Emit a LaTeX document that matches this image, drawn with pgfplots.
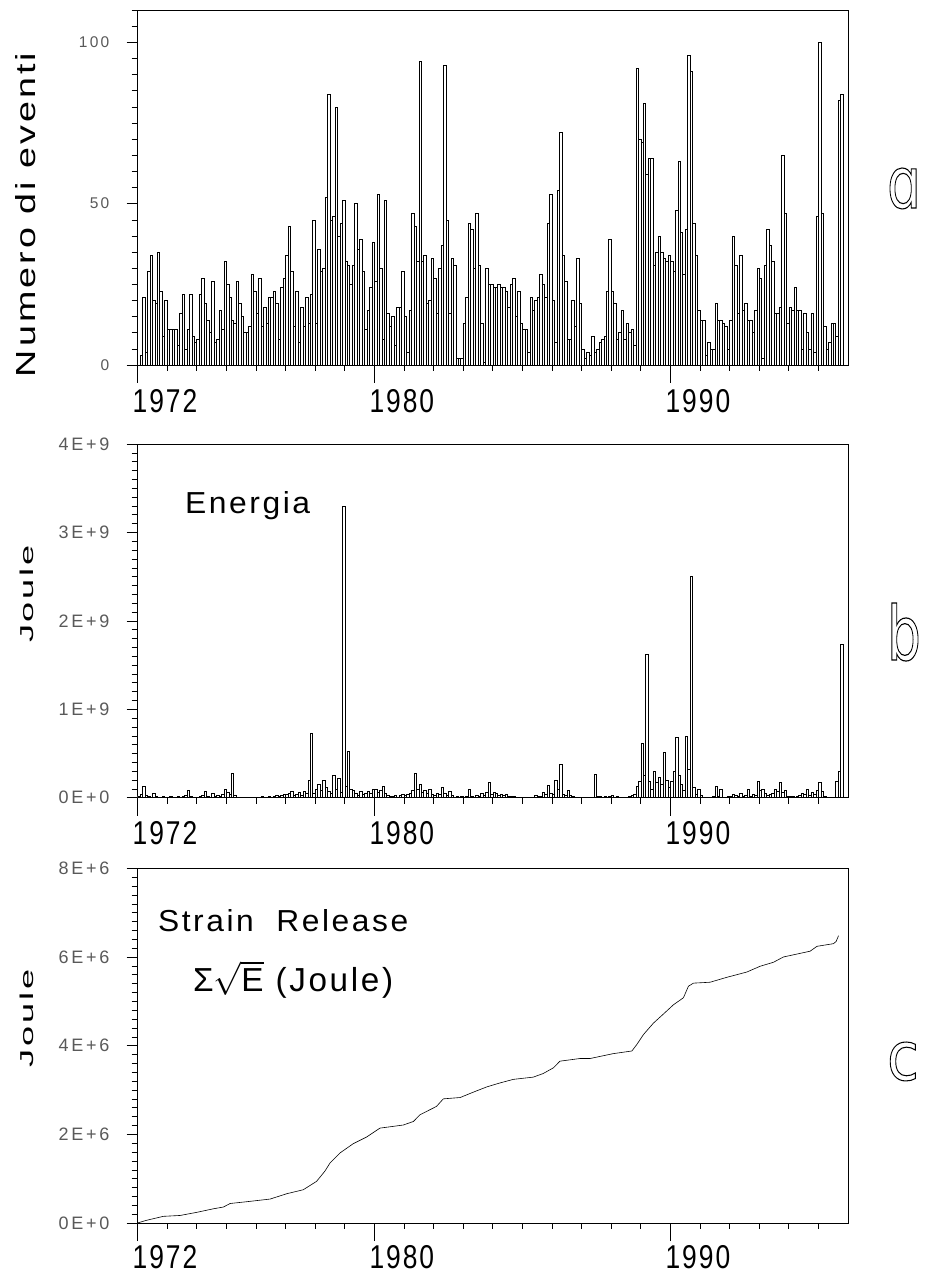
\documentclass[border=0pt]{standalone}
\usepackage{fontspec}
\setmainfont{Liberation Sans}
\newfontfamily\xtfont{Liberation Sans}[FakeStretch=0.8, LetterSpace=6]
\newfontfamily\ytfont{Liberation Sans}[LetterSpace=15]
\newfontfamily\lblfont{Liberation Sans}[LetterSpace=8]
\newfontfamily\outfont{DejaVu Sans}
\usepackage{graphicx}
\usepackage{pgfplots}
\pgfplotsset{compat=1.18}
\newcommand\xticksize{\xtfont\fontsize{33}{36}\selectfont}
\newcommand\ytsmall{\ytfont\fontsize{15.5}{17}\selectfont}
\newcommand\ytbig{\ytfont\fontsize{18}{20}\selectfont}
\newcommand\outl[1]{\special{pdf:literal direct 1 Tr 1.1 w}#1\special{pdf:literal direct 0 Tr}}
\pgfplotsset{
 panel/.style={
  scale only axis, width=710.5pt, anchor=south west,
  xmin=1972, xmax=1996,
  axis line style={line width=0.7pt},
  tick align=outside, tick pos=left,
  major tick length=11pt, minor tick length=6pt,
  every tick/.append style={line width=0.6pt, black},
  every minor tick/.append style={line width=0.5pt, black},
  xtick={1972,1980,1990}, xticklabels={1972,1980,1990},
  minor xtick={1973,1974,...,1995},
  extra x ticks={1972,1980,1990}, extra x tick labels={},
  extra x tick style={major tick length=18pt},
  xticklabel style={font=\xticksize, anchor=north west, inner sep=0pt, xshift=-5pt, yshift=-13pt},
  yticklabel style={anchor=east, inner sep=0pt, xshift=-17pt, text=black!65},
 }
}
\begin{document}
\begin{tikzpicture}
\useasboundingbox (0pt,0pt) rectangle (925pt,1276pt);
% ---------------- panel a ----------------
\begin{axis}[panel, at={(137.5pt,911pt)}, height=355pt, ymin=0, ymax=110,
  ytick={0,50,100}, yticklabels={0,50,100}, minor ytick={5,10,...,110},
  yticklabel style={font=\ytsmall}]
\addplot[ybar interval, draw=black, fill=white, line width=0.45pt]
 table[row sep=\\, header=false, x expr=1972+\coordindex/12, y index=0] {
0\\3\\21\\4\\29\\34\\20\\19\\35\\23\\9\\
20\\11\\11\\11\\11\\6\\16\\22\\5\\11\\22\\
9\\7\\8\\22\\27\\19\\14\\10\\26\\7\\
8\\17\\11\\32\\25\\21\\14\\13\\26\\19\\
15\\10\\10\\12\\28\\23\\16\\27\\12\\18\\13\\
21\\21\\23\\19\\8\\24\\27\\34\\43\\29\\12\\
23\\7\\18\\12\\21\\13\\22\\45\\13\\36\\
29\\
30\\52\\84\\45\\46\\80\\40\\44\\51\\32\\
31\\25\\31\\50\\36\\39\\29\\11\\17\\24\\
38\\26\\53\\30\\8\\51\\16\\12\\15\\6\\
18\\18\\29\\15\\4\\17\\47\\43\\32\\94\\
32\\34\\19\\20\\33\\27\\16\\30\\37\\93\\
45\\16\\33\\31\\2\\2\\2\\13\\21\\44\\
42\\30\\47\\31\\13\\1\\30\\25\\25\\24\\
24\\
25\\24\\24\\23\\18\\25\\27\\15\\23\\13\\
11\\11\\4\\21\\17\\20\\21\\28\\25\\21\\
44\\53\\20\\7\\54\\72\\34\\26\\8\\8\\
20\\12\\33\\19\\5\\2\\4\\3\\9\\4\\5\\
7\\8\\9\\23\\39\\23\\19\\8\\10\\17\\
8\\13\\10\\11\\6\\92\\70\\69\\81\\59\\
64\\64\\31\\35\\40\\35\\33\\32\\34\\32\\
29\\48\\63\\41\\28\\42\\96\\91\\44\\34\\
17\\14\\14\\3\\7\\5\\5\\19\\14\\14\\
13\\12\\5\\14\\40\\31\\16\\34\\17\\19\\
14\\14\\10\\17\\30\\27\\2\\31\\42\\37\\
32\\16\\16\\18\\65\\47\\13\\18\\17\\24\\
17\\17\\5\\16\\10\\5\\16\\4\\46\\100\\
47\\12\\5\\7\\13\\13\\9\\82\\84\\
0\\0\\0\\
};
\end{axis}
% ---------------- panel b ----------------
\begin{axis}[panel, at={(137.5pt,478.3pt)}, height=353.7pt, ymin=0, ymax=4,
  ytick={0,1,2,3,4}, yticklabels={0E+0,1E+9,2E+9,3E+9,4E+9}, minor y tick num=9,
  yticklabel style={font=\ytbig}]
\addplot[ybar interval, draw=black, fill=white, line width=0.45pt]
 table[row sep=\\, header=false, x expr=1972+\coordindex/12, y index=0] {
0.02\\0.04\\0.13\\0.03\\0.02\\0.01\\0.05\\0.02\\0.01\\0.01\\0.02\\0.01\\
0.01\\0.02\\0.01\\0.01\\0.02\\0.01\\0.02\\0.03\\0.08\\0.02\\0.01\\0.01\\
0.01\\0.02\\0.03\\0.07\\0.02\\0.01\\0.05\\0.02\\0.03\\0.02\\0.04\\0.10\\
0.06\\0.04\\0.28\\0.03\\0.01\\0.01\\0.01\\0.01\\0.00\\0.01\\0.01\\0.01\\
0.01\\0.01\\0.02\\0.01\\0.01\\0.02\\0.01\\0.02\\0.03\\0.02\\0.03\\0.04\\
0.04\\0.05\\0.07\\0.03\\0.04\\0.06\\0.03\\0.07\\0.05\\0.20\\0.73\\0.05\\
0.10\\0.15\\0.08\\0.20\\0.12\\0.07\\0.05\\0.25\\0.10\\0.22\\0.06\\3.30\\
0.13\\0.53\\0.10\\0.08\\0.05\\0.03\\0.07\\0.04\\0.05\\0.07\\0.05\\0.10\\
0.10\\0.06\\0.08\\0.13\\0.05\\0.03\\0.02\\0.02\\0.03\\0.01\\0.03\\0.04\\
0.03\\0.04\\0.05\\0.08\\0.28\\0.10\\0.15\\0.06\\0.08\\0.05\\0.10\\0.04\\
0.03\\0.05\\0.04\\0.12\\0.05\\0.03\\0.07\\0.03\\0.01\\0.02\\0.01\\0.02\\
0.01\\0.02\\0.10\\0.02\\0.01\\0.03\\0.02\\0.05\\0.03\\0.06\\0.18\\0.04\\
0.06\\0.05\\0.03\\0.04\\0.03\\0.04\\0.02\\0.02\\0.02\\0.01\\0.01\\0.00\\
0.01\\0.00\\0.01\\0.01\\0.00\\0.03\\0.02\\0.02\\0.06\\0.04\\0.14\\0.05\\
0.04\\0.20\\0.10\\0.38\\0.04\\0.03\\0.08\\0.03\\0.02\\0.01\\0.01\\0.00\\
0.01\\0.00\\0.01\\0.00\\0.01\\0.26\\0.02\\0.02\\0.01\\0.02\\0.01\\0.02\\
0.03\\0.01\\0.02\\0.01\\0.00\\0.01\\0.01\\0.02\\0.03\\0.04\\0.13\\0.19\\
0.62\\0.25\\1.62\\0.19\\0.10\\0.30\\0.17\\0.23\\0.15\\0.51\\0.20\\0.12\\
0.19\\0.30\\0.68\\0.25\\0.15\\0.08\\0.70\\0.32\\2.50\\0.12\\0.04\\0.10\\
0.03\\0.01\\0.01\\0.01\\0.01\\0.02\\0.13\\0.02\\0.10\\0.01\\0.01\\0.02\\
0.02\\0.04\\0.03\\0.02\\0.05\\0.02\\0.03\\0.10\\0.02\\0.04\\0.03\\0.19\\
0.08\\0.10\\0.05\\0.03\\0.04\\0.05\\0.10\\0.07\\0.17\\0.06\\0.08\\0.02\\
0.02\\0.02\\0.01\\0.02\\0.03\\0.05\\0.04\\0.10\\0.03\\0.06\\0.04\\0.08\\
0.17\\0.07\\0.02\\0.01\\0.01\\0.01\\0.01\\0.19\\0.30\\1.74\\0.00\\0.00\\
0\\
};
\end{axis}
% ---------------- panel c ----------------
\begin{axis}[panel, at={(137.5pt,53pt)}, height=354.7pt, ymin=0, ymax=8,
  ytick={0,2,4,6,8}, yticklabels={0E+0,2E+6,4E+6,6E+6,8E+6}, minor y tick num=9,
  yticklabel style={font=\ytbig},
  xticklabel style={yshift=2pt}]
\addplot[black, line width=0.6pt] coordinates {
(1972.0,0) (1972.3,0.06) (1972.87,0.15) (1973.44,0.17) (1974.0,0.24) (1974.56,0.32)
(1974.9,0.36) (1975.13,0.44) (1975.69,0.48) (1976.48,0.54) (1977.04,0.66) (1977.6,0.75)
(1978.05,0.94) (1978.33,1.17) (1978.5,1.35) (1978.84,1.58) (1979.29,1.79) (1979.74,1.94)
(1980.19,2.14) (1980.53,2.17) (1980.98,2.21) (1981.32,2.29) (1981.54,2.44) (1982.1,2.63)
(1982.33,2.8) (1982.9,2.83) (1983.34,2.95) (1983.8,3.07) (1984.25,3.16) (1984.7,3.24)
(1985.37,3.29) (1985.7,3.37) (1986.05,3.50) (1986.27,3.65) (1986.95,3.71) (1987.29,3.71)
(1988.07,3.82) (1988.7,3.88) (1988.86,4.02) (1989.09,4.25) (1989.43,4.51) (1989.76,4.71)
(1990.1,4.92) (1990.44,5.08) (1990.61,5.34) (1990.78,5.41) (1991.34,5.43) (1991.9,5.54)
(1992.58,5.66) (1993.03,5.79) (1993.48,5.88) (1993.82,6.0) (1994.72,6.13) (1994.95,6.24)
(1995.51,6.30) (1995.6,6.35) (1995.68,6.48)
};
\end{axis}
% ---------------- texts ----------------
\node[rotate=90, inner sep=0pt] at (26pt,1061pt) {\resizebox{324pt}{20pt}{\lblfont Numero\ di\ eventi}};
\node[rotate=90, inner sep=0pt] at (26.5pt,682pt) {\resizebox{98pt}{13.5pt}{\lblfont Joule}};
\node[rotate=90, inner sep=0pt] at (26.5pt,258pt) {\resizebox{98pt}{13.5pt}{\lblfont Joule}};
\node[anchor=base west, inner sep=0pt] at (185pt,762pt) {\resizebox{125pt}{22pt}{\lblfont Energia}};
\node[anchor=base west, inner sep=0pt] at (158pt,344pt) {\resizebox{250pt}{22pt}{\lblfont Strain\ \ Release}};
\node[anchor=base west, inner sep=0pt] at (193pt,284pt) {\resizebox{200pt}{!}{\lblfont\fontsize{10}{12}\selectfont Σ$\smash{\sqrt{\mbox{E}}}$\ (Joule)}};
\node[anchor=base, inner sep=0pt] at (904pt,1068pt) {\resizebox{34pt}{40pt}{\outfont\fontsize{72}{72}\selectfont\outl{ɑ}}};
\node[anchor=base, inner sep=0pt] at (904pt,616pt) {\resizebox{34pt}{57pt}{\outfont\fontsize{72}{72}\selectfont\outl{b}}};
\node[anchor=base, inner sep=0pt] at (903pt,196pt) {\resizebox{32pt}{38pt}{\outfont\fontsize{72}{72}\selectfont\outl{c}}};
\end{tikzpicture}
\end{document}
